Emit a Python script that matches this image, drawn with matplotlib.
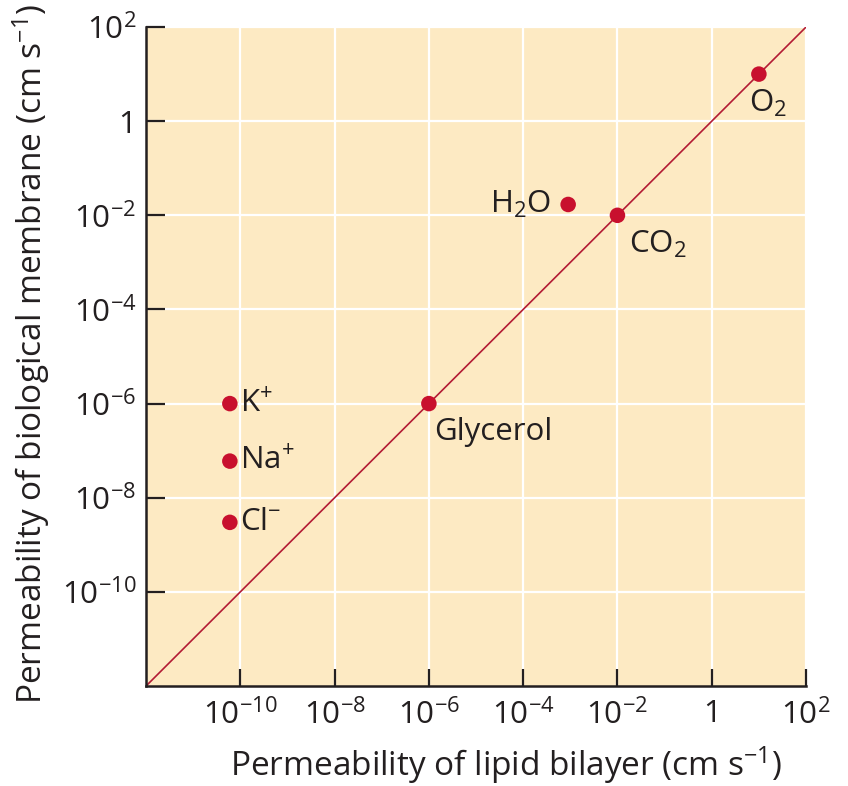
import matplotlib
matplotlib.use("Agg")
import matplotlib.pyplot as plt
import numpy as np

plt.rcParams["font.family"] = ["Open Sans", "DejaVu Sans"]
plt.rcParams["mathtext.fontset"] = "custom"
plt.rcParams["mathtext.rm"] = "Open Sans"
plt.rcParams["mathtext.it"] = "Open Sans"

# molecules: (lipid bilayer, biological membrane) permeability in cm/s
names = ["K$^{+}$", "Na$^{+}$", "Cl$^{-}$", "Glycerol", "H$_2$O", "CO$_2$", "O$_2$"]
lipid = [6e-11, 6e-11, 6e-11, 1e-6, 9e-4, 1e-2, 1e1]
membrane = [1e-6, 6e-8, 3e-9, 1e-6, 1.7e-2, 1e-2, 1e1]

tick_vals = [1e-10, 1e-8, 1e-6, 1e-4, 1e-2, 1, 1e2]
tick_labels = ["10$^{-10}$", "10$^{-8}$", "10$^{-6}$", "10$^{-4}$", "10$^{-2}$", "1", "10$^{2}$"]

# label offsets in points (dx, dy) and alignment
label_pos = [(7, 0, "left", "center"), (7, 0, "left", "center"), (7, 0, "left", "center"),
             (4, -10, "left", "top"), (-12, 0, "right", "center"),
             (8, -10, "left", "top"), (-7, -10, "left", "top")]

bg = "#fdeac3"
red = "#c8102e"
ink = "#231f20"
fs = 22.5

fig = plt.figure(figsize=(8.48, 7.86), dpi=100)
ax = fig.add_axes([0.1722, 0.1272, 0.7783, 0.8384])
ax.set_facecolor(bg)
ax.set_xscale("log")
ax.set_yscale("log")
ax.set_xlim(1e-12, 1e2)
ax.set_ylim(1e-12, 1e2)

ax.grid(True, which="major", color="white", linewidth=1.6)
ax.set_axisbelow(True)

ax.plot([1e-12, 1e2], [1e-12, 1e2], color="#b31b34", linewidth=1.2, zorder=2)
ax.scatter(lipid, membrane, s=125, color=red, zorder=3, edgecolors="none")

for n, x, y, (dx, dy, ha, va) in zip(names, lipid, membrane, label_pos):
    ax.annotate(n, (x, y), xytext=(dx, dy), textcoords="offset points",
                ha=ha, va=va, fontsize=fs, color=ink)

ax.set_xticks(tick_vals)
ax.set_xticklabels(tick_labels)
ax.set_yticks(tick_vals)
ax.set_yticklabels(tick_labels)
ax.minorticks_off()
ax.tick_params(axis="both", direction="in", length=12, width=1.6, color=ink,
               labelsize=fs, labelcolor=ink, pad=9)
ax.tick_params(axis="y", length=14, pad=7)

for s in ["top", "right"]:
    ax.spines[s].set_visible(False)
for s in ["left", "bottom"]:
    ax.spines[s].set_linewidth(1.8)
    ax.spines[s].set_color(ink)

fig.text(0.596, 0.026, "Permeability of lipid bilayer (cm s$^{-1}$)", ha="center", va="center",
         fontsize=24, color=ink)
fig.text(0.037, 0.55, "Permeability of biological membrane (cm s$^{-1}$)", ha="center", va="center",
         rotation=90, fontsize=24, color=ink)

plt.savefig("out.png", dpi=100)
plt.close()
